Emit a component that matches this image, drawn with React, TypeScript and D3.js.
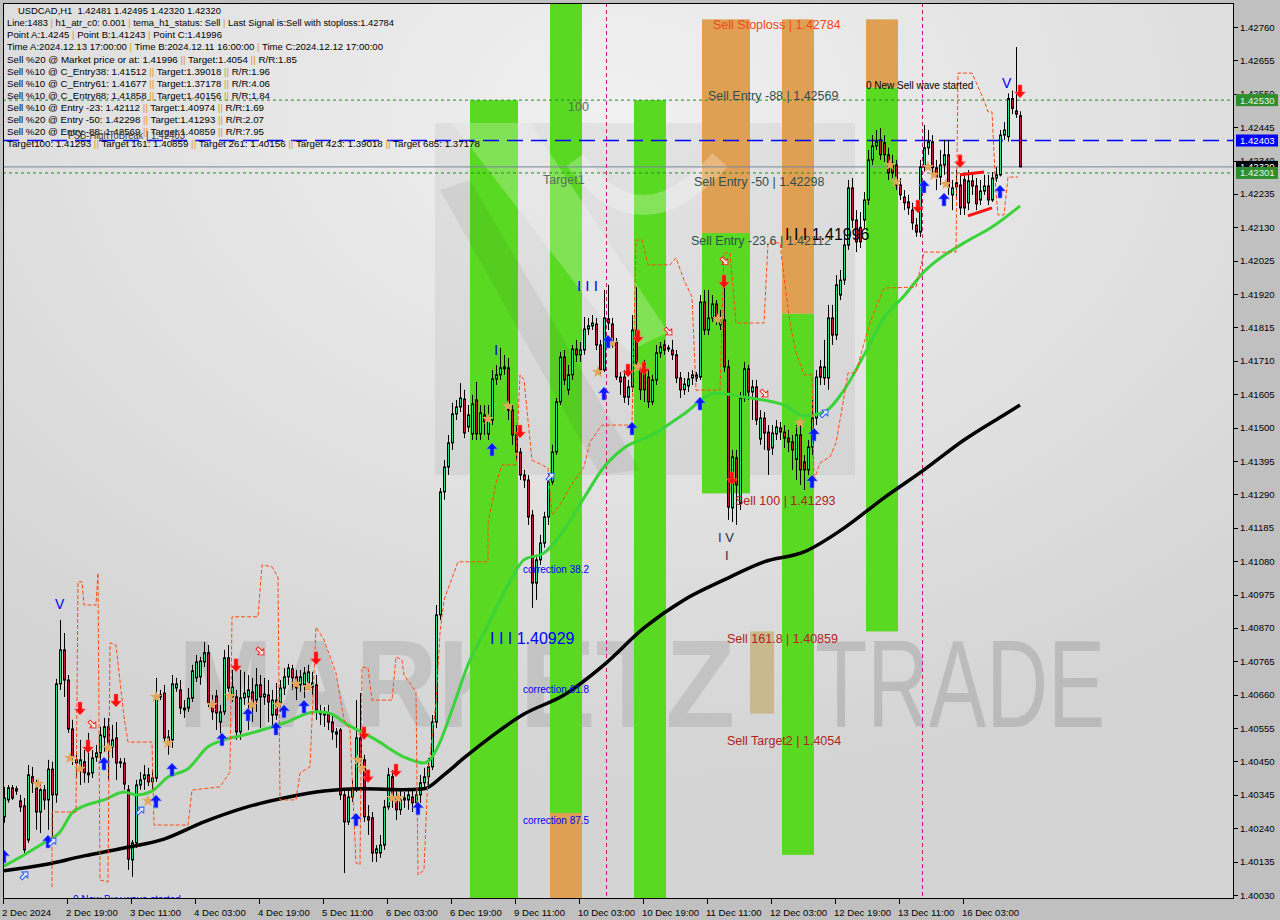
import React from "react";
import * as d3 from "d3";

// ---------------- DATA ----------------
const OPEN = [
  1.40276,1.40329,1.40367,1.40364,1.40326,1.40310,1.40203,1.40402,1.40367,1.40291,
  1.40361,1.40329,1.40426,1.40345,1.40694,1.40801,1.40706,1.40552,1.40445,1.40423,
  1.40449,1.40414,1.40414,1.40464,1.40477,1.40527,1.40559,1.40496,1.40524,1.40449,
  1.40445,1.40361,1.40140,1.40194,1.40376,1.40395,1.40408,1.40386,1.40398,1.40653,
  1.40665,1.40527,1.40518,1.40681,1.40675,1.40618,1.40618,1.40649,1.40713,1.40716,
  1.40763,1.40792,1.40634,1.40656,1.40574,1.40606,1.40776,1.40653,1.40653,1.40543,
  1.40650,1.40653,1.40669,1.40643,1.40691,1.40653,1.40659,1.40596,1.40643,1.40634,
  1.40681,1.40716,1.40741,1.40716,1.40691,1.40691,1.40697,1.40684,1.40691,1.40606,
  1.40599,1.40599,1.40574,1.40543,1.40549,1.40345,1.40260,1.40338,1.40367,1.40524,
  1.40455,1.40276,1.40273,1.40162,1.40162,1.40187,1.40307,1.40402,1.40338,1.40298,
  1.40329,1.40329,1.40338,1.40320,1.40345,1.40383,1.40402,1.40433,1.40574,1.40911,
  1.41298,1.41376,1.41452,1.41543,1.41565,1.41590,1.41502,1.41480,1.41587,1.41480,
  1.41540,1.41480,1.41524,1.41653,1.41666,1.41691,1.41688,1.41555,1.41477,1.41423,
  1.41351,1.41335,1.41225,1.41011,1.41084,1.41137,1.41219,1.41329,1.41423,1.41581,
  1.41722,1.41619,1.41666,1.41747,1.41729,1.41744,1.41810,1.41820,1.41826,1.41760,
  1.41681,1.41842,1.41826,1.41769,1.41659,1.41659,1.41596,1.41628,1.41807,1.41681,
  1.41672,1.41659,1.41581,1.41650,1.41735,1.41760,1.41751,1.41744,1.41729,1.41656,
  1.41619,1.41631,1.41656,1.41666,1.41659,1.41895,1.41807,1.41845,1.41889,1.41823,
  1.41839,1.41691,1.41247,1.41405,1.41262,1.41593,1.41685,1.41612,1.41628,1.41464,
  1.41530,1.41486,1.41436,1.41480,1.41499,1.41486,1.41467,1.41455,1.41400,1.41477,
  1.41392,1.41367,1.41439,1.41530,1.41691,1.41656,1.41656,1.41845,1.41791,1.41917,
  1.41964,1.42074,1.42254,1.42153,1.42130,1.42153,1.42216,1.42342,1.42386,1.42405,
  1.42396,1.42358,1.42332,1.42326,1.42263,1.42225,1.42210,1.42184,1.42137,1.42115,
  1.42320,1.42380,1.42399,1.42317,1.42288,1.42326,1.42358,1.42232,1.42270,1.42263,
  1.42280,1.42207,1.42276,1.42260,1.42216,1.42244,1.42260,1.42216,1.42285,1.42295,
  1.42420,1.42415,1.42535,1.42496,1.42481,
];
const HIGH = [
  1.40370,1.40376,1.40376,1.40373,1.40345,1.40335,1.40439,1.40433,1.40392,1.40386,
  1.40376,1.40455,1.40449,1.40710,1.40895,1.40854,1.40722,1.40581,1.40477,1.40518,
  1.40486,1.40540,1.40486,1.40502,1.40559,1.40587,1.40587,1.40565,1.40574,1.40461,
  1.40461,1.40376,1.40203,1.40392,1.40417,1.40439,1.40430,1.40423,1.40713,1.40675,
  1.40691,1.40549,1.40722,1.40713,1.40706,1.40643,1.40681,1.40754,1.40785,1.40779,
  1.40826,1.40816,1.40659,1.40675,1.40628,1.40801,1.40816,1.40738,1.40675,1.40738,
  1.40732,1.40722,1.40713,1.40744,1.40722,1.40713,1.40706,1.40675,1.40697,1.40706,
  1.40744,1.40757,1.40754,1.40738,1.40738,1.40747,1.40754,1.40732,1.40722,1.40628,
  1.40621,1.40628,1.40596,1.40555,1.40555,1.40361,1.40361,1.40392,1.40643,1.40665,
  1.40471,1.40313,1.40291,1.40187,1.40219,1.40329,1.40430,1.40423,1.40361,1.40361,
  1.40354,1.40367,1.40361,1.40367,1.40408,1.40430,1.40461,1.40596,1.40942,1.41310,
  1.41398,1.41477,1.41578,1.41587,1.41640,1.41619,1.41571,1.41603,1.41644,1.41571,
  1.41571,1.41571,1.41681,1.41697,1.41751,1.41729,1.41719,1.41571,1.41508,1.41436,
  1.41367,1.41351,1.41241,1.41100,1.41163,1.41235,1.41342,1.41446,1.41593,1.41738,
  1.41744,1.41697,1.41760,1.41776,1.41769,1.41848,1.41845,1.41854,1.41845,1.41776,
  1.41933,1.41949,1.41845,1.41782,1.41675,1.41681,1.41650,1.41854,1.41942,1.41697,
  1.41713,1.41681,1.41666,1.41760,1.41769,1.41776,1.41760,1.41776,1.41744,1.41675,
  1.41656,1.41675,1.41681,1.41675,1.41917,1.41933,1.41933,1.41917,1.41901,1.41870,
  1.41955,1.41713,1.41430,1.41430,1.41612,1.41707,1.41697,1.41650,1.41650,1.41555,
  1.41549,1.41508,1.41508,1.41524,1.41518,1.41508,1.41493,1.41477,1.41508,1.41508,
  1.41414,1.41461,1.41587,1.41681,1.41713,1.41776,1.41886,1.41886,1.41980,1.41996,
  1.42106,1.42279,1.42285,1.42184,1.42178,1.42241,1.42373,1.42420,1.42436,1.42442,
  1.42420,1.42380,1.42358,1.42342,1.42285,1.42247,1.42232,1.42207,1.42159,1.42342,
  1.42452,1.42436,1.42420,1.42342,1.42373,1.42405,1.42405,1.42279,1.42310,1.42295,
  1.42295,1.42310,1.42304,1.42285,1.42279,1.42295,1.42295,1.42304,1.42319,1.42436,
  1.42461,1.42551,1.42560,1.42697,1.42495,
];
const LOW = [
  1.40257,1.40320,1.40329,1.40345,1.40291,1.40162,1.40194,1.40351,1.40235,1.40225,
  1.40298,1.40235,1.40213,1.40320,1.40675,1.40653,1.40540,1.40439,1.40398,1.40376,
  1.40383,1.40383,1.40398,1.40449,1.40455,1.40480,1.40392,1.40461,1.40392,1.40430,
  1.40361,1.40109,1.40087,1.40178,1.40361,1.40361,1.40373,1.40361,1.40386,1.40643,
  1.40511,1.40471,1.40493,1.40669,1.40599,1.40587,1.40606,1.40637,1.40700,1.40691,
  1.40747,1.40621,1.40581,1.40549,1.40538,1.40596,1.40669,1.40637,1.40518,1.40518,
  1.40628,1.40549,1.40574,1.40606,1.40555,1.40628,1.40574,1.40565,1.40581,1.40606,
  1.40659,1.40691,1.40675,1.40643,1.40669,1.40650,1.40675,1.40659,1.40581,1.40565,
  1.40559,1.40549,1.40518,1.40493,1.40329,1.40099,1.40250,1.40323,1.40354,1.40423,
  1.40260,1.40219,1.40134,1.40134,1.40147,1.40172,1.40298,1.40304,1.40266,1.40282,
  1.40304,1.40298,1.40291,1.40298,1.40320,1.40361,1.40376,1.40423,1.40555,1.40895,
  1.41273,1.41351,1.41430,1.41524,1.41549,1.41467,1.41486,1.41461,1.41461,1.41461,
  1.41477,1.41461,1.41508,1.41634,1.41650,1.41666,1.41524,1.41446,1.41398,1.41335,
  1.41310,1.41194,1.40933,1.40958,1.41068,1.41122,1.41194,1.41320,1.41414,1.41571,
  1.41634,1.41603,1.41650,1.41707,1.41707,1.41729,1.41791,1.41807,1.41744,1.41666,
  1.41675,1.41807,1.41751,1.41650,1.41603,1.41578,1.41571,1.41612,1.41688,1.41587,
  1.41581,1.41562,1.41571,1.41634,1.41719,1.41729,1.41738,1.41713,1.41640,1.41593,
  1.41603,1.41612,1.41634,1.41644,1.41650,1.41791,1.41791,1.41832,1.41823,1.41807,
  1.41675,1.41210,1.41203,1.41194,1.41241,1.41581,1.41587,1.41524,1.41508,1.41446,
  1.41430,1.41351,1.41414,1.41461,1.41461,1.41436,1.41423,1.41367,1.41335,1.41320,
  1.41304,1.41351,1.41414,1.41508,1.41634,1.41634,1.41619,1.41760,1.41776,1.41901,
  1.41949,1.42059,1.42128,1.42052,1.42065,1.42128,1.42200,1.42326,1.42373,1.42342,
  1.42336,1.42279,1.42285,1.42247,1.42216,1.42184,1.42169,1.42122,1.42100,1.42100,
  1.42304,1.42358,1.42295,1.42247,1.42263,1.42295,1.42232,1.42184,1.42216,1.42169,
  1.42169,1.42184,1.42232,1.42184,1.42200,1.42232,1.42200,1.42210,1.42273,1.42290,
  1.42405,1.42400,1.42486,1.42474,1.42320,
];
const CLOSE = [
  1.40335,1.40367,1.40335,1.40357,1.40307,1.40172,1.40408,1.40383,1.40291,1.40361,
  1.40329,1.40426,1.40345,1.40694,1.40801,1.40706,1.40552,1.40464,1.40455,1.40455,
  1.40414,1.40408,1.40461,1.40477,1.40533,1.40559,1.40502,1.40518,1.40445,1.40445,
  1.40379,1.40143,1.40194,1.40376,1.40392,1.40408,1.40386,1.40398,1.40653,1.40659,
  1.40524,1.40511,1.40694,1.40694,1.40618,1.40612,1.40649,1.40735,1.40763,1.40766,
  1.40792,1.40634,1.40606,1.40603,1.40606,1.40776,1.40681,1.40684,1.40543,1.40650,
  1.40665,1.40675,1.40628,1.40691,1.40653,1.40662,1.40637,1.40643,1.40596,1.40681,
  1.40716,1.40744,1.40713,1.40681,1.40716,1.40728,1.40732,1.40697,1.40612,1.40599,
  1.40596,1.40574,1.40543,1.40536,1.40345,1.40260,1.40338,1.40367,1.40524,1.40455,
  1.40276,1.40266,1.40162,1.40175,1.40187,1.40307,1.40408,1.40338,1.40298,1.40329,
  1.40335,1.40345,1.40320,1.40345,1.40383,1.40402,1.40433,1.40574,1.40911,1.41298,
  1.41376,1.41452,1.41543,1.41565,1.41593,1.41483,1.41540,1.41574,1.41480,1.41546,
  1.41518,1.41533,1.41653,1.41666,1.41688,1.41685,1.41555,1.41477,1.41423,1.41351,
  1.41335,1.41219,1.41011,1.41084,1.41137,1.41219,1.41329,1.41423,1.41581,1.41722,
  1.41650,1.41666,1.41747,1.41729,1.41744,1.41810,1.41820,1.41829,1.41760,1.41681,
  1.41845,1.41829,1.41769,1.41659,1.41644,1.41596,1.41628,1.41807,1.41703,1.41619,
  1.41619,1.41581,1.41650,1.41735,1.41754,1.41744,1.41747,1.41729,1.41656,1.41619,
  1.41637,1.41653,1.41666,1.41656,1.41895,1.41807,1.41845,1.41889,1.41845,1.41832,
  1.41691,1.41250,1.41408,1.41320,1.41593,1.41685,1.41612,1.41628,1.41524,1.41530,
  1.41483,1.41430,1.41483,1.41502,1.41486,1.41467,1.41455,1.41430,1.41477,1.41367,
  1.41367,1.41439,1.41530,1.41659,1.41659,1.41691,1.41845,1.41791,1.41949,1.41964,
  1.42074,1.42254,1.42153,1.42084,1.42084,1.42216,1.42342,1.42386,1.42399,1.42358,
  1.42358,1.42301,1.42301,1.42263,1.42232,1.42207,1.42191,1.42144,1.42115,1.42320,
  1.42380,1.42399,1.42317,1.42288,1.42326,1.42358,1.42257,1.42254,1.42257,1.42191,
  1.42191,1.42276,1.42260,1.42204,1.42244,1.42260,1.42216,1.42285,1.42295,1.42420,
  1.42436,1.42535,1.42504,1.42486,1.42320,
];

const X_TICK_BARS = [0,16,32,48,64,80,96,112,128,144,160,176,192,208,224,240];
const X_TICK_LABELS = ["2 Dec 2024","2 Dec 19:00","3 Dec 11:00","4 Dec 03:00","4 Dec 19:00","5 Dec 11:00","6 Dec 03:00","6 Dec 19:00","9 Dec 11:00","10 Dec 03:00","10 Dec 19:00","11 Dec 11:00","12 Dec 03:00","12 Dec 19:00","13 Dec 11:00","16 Dec 03:00"];
const Y_TICKS = [1.40030,1.40135,1.40240,1.40345,1.40450,1.40555,1.40660,1.40765,1.40870,1.40975,1.41080,1.41185,1.41290,1.41395,1.41500,1.41605,1.41710,1.41815,1.41920,1.42025,1.42130,1.42235,1.42340,1.42445,1.42550,1.42655,1.42760];

const GREEN_MA_BARS = [0,5,10,14,17,20,25,30,33,37,41,46,51,55,60,70,78,81,86,93,100,105,107,109,112,116,121,126,130,135,140,145,150,155,162,170,178,185,195,200,205,210,215,220,225,230,240,247,254];
const GREEN_MA_VALUES = [1.40121,1.40156,1.40194,1.40228,1.40288,1.40310,1.40329,1.40354,1.40345,1.40357,1.40401,1.40427,1.40496,1.40518,1.40533,1.40571,1.40606,1.40603,1.40565,1.40518,1.40464,1.40445,1.40464,1.40511,1.40612,1.40754,1.40879,1.41005,1.41084,1.41106,1.41178,1.41279,1.41376,1.41436,1.41477,1.41543,1.41609,1.41596,1.41571,1.41537,1.41549,1.41618,1.41728,1.41845,1.41914,1.41990,1.42081,1.42131,1.42197];
const BLACK_MA_BARS = [0,10,20,30,40,50,60,70,80,90,100,105,110,115,120,130,140,150,160,170,180,190,200,210,220,230,240,250,254];
const BLACK_MA_VALUES = [1.40106,1.40125,1.40153,1.40178,1.40206,1.40260,1.40304,1.40335,1.40357,1.40364,1.40361,1.40364,1.40408,1.40461,1.40511,1.40599,1.40659,1.40754,1.40870,1.40958,1.41021,1.41078,1.41109,1.41184,1.41279,1.41367,1.41461,1.41540,1.41571];

const STOP_BARS = [12,12,18,18.5,19.5,20,23,23.5,24,26,26.5,28,30,31,37,37.5,46,47,54,56.5,57,63.5,64.5,67,68.5,69,73,74,76.5,78,80,83,85,86.5,88,89,89.5,91,92,97,98,99.5,100,103,103.5,105,106,108,109,110,113.5,121,121,123,124.5,128,129,130,132,136,137,139,141.5,145,146.5,149.5,157,158,159.5,161,166.5,168,170,172,173,179,180,181.5,183,190,191,194,195,196.5,198,200,202,202.5,204,206.5,208,210,211,213,215,216.5,218,220,228,230,238,238.5,242,245,246,247,248,248.5,250,251,253.5];
const STOP_VALUES = [1.40055,1.40291,1.40291,1.41015,1.41015,1.40942,1.40942,1.41043,1.40077,1.40071,1.40823,1.40816,1.40590,1.40511,1.40511,1.40250,1.40250,1.40360,1.40370,1.40417,1.40905,1.40905,1.41068,1.41062,1.41030,1.40329,1.40329,1.40414,1.40433,1.40873,1.40832,1.40728,1.40581,1.40549,1.40131,1.40125,1.40747,1.40744,1.40643,1.40643,1.40779,1.40769,1.40722,1.40669,1.40093,1.40109,1.40414,1.40634,1.40854,1.40958,1.41078,1.41078,1.41200,1.41326,1.41383,1.41383,1.41666,1.41650,1.41398,1.41373,1.41225,1.41257,1.41313,1.41376,1.41455,1.41508,1.41508,1.42090,1.42090,1.42012,1.42012,1.42034,1.41964,1.41911,1.41618,1.41618,1.42049,1.42049,1.41829,1.41829,1.42081,1.42081,1.41974,1.41829,1.41735,1.41666,1.41666,1.41335,1.41389,1.41408,1.41452,1.41596,1.41672,1.41672,1.41766,1.41829,1.41880,1.41939,1.41942,1.42052,1.42052,1.42615,1.42615,1.42530,1.42493,1.42493,1.42238,1.42169,1.42169,1.42288,1.42288];

const BUY_ARROW_BARS = [0,11,25,38,42,54.5,61,68,70,75,88,103.5,122,150,151,157,174,202,202.5,230,235,249];
const BUY_ARROW_PRICES = [1.40172,1.40219,1.40464,1.40345,1.40445,1.40540,1.40618,1.40574,1.40628,1.40643,1.40288,1.40323,1.41452,1.41628,1.41791,1.41518,1.41596,1.41351,1.41499,1.42279,1.42238,1.42263];
const SELL_ARROW_BARS = [19,21,28,58,78,90,91,98,129,156,158.5,160,180,182,228.5,239,254];
const SELL_ARROW_PRICES = [1.40596,1.40477,1.40621,1.40732,1.40754,1.40518,1.40383,1.40401,1.41467,1.41659,1.41766,1.41666,1.41939,1.41320,1.42175,1.42317,1.42537];
const HOLLOW_BUY_BARS = [6,13,35,137.5,206];
const HOLLOW_BUY_PRICES = [1.40103,1.40209,1.40307,1.41357,1.41556];
const HOLLOW_SELL_BARS = [23,65,167,181,191];
const HOLLOW_SELL_PRICES = [1.40555,1.40785,1.41791,1.42012,1.41596];
const STAR_BARS = [8.5,16.5,19,26,36,38,41,52,56.5,62,68.5,73,76,88.5,89.5,97,98.5,121,126,148.5,152,158.5,178.5,221.5,223,231,232.5,235.5,199];
const STAR_PRICES = [1.40379,1.40461,1.40427,1.40493,1.40326,1.40653,1.40508,1.40628,1.40656,1.40628,1.40628,1.40694,1.40684,1.40455,1.40430,1.40335,1.40335,1.41527,1.41568,1.41675,1.41766,1.41691,1.41842,1.42326,1.42273,1.42320,1.42295,1.42266,1.41515];
const RED_SEG_BARS = [[239,245],[241,247]];
const RED_SEG_PRICES = [[1.42295,1.42304],[1.42166,1.42191]];

const ZONE_START = [117,137,137,158,175,175,195,195,216,216,187];
const ZONE_END = [128,144,144,165,186,186,202,202,223,223,192];
const ZONE_TOP = [1.42530,1.42900,1.40288,1.42530,1.42784,1.42112,1.42784,1.41858,1.42784,1.42569,1.40859];
const ZONE_BOTTOM = [1.39900,1.40288,1.39900,1.39900,1.42112,1.41293,1.41858,1.40156,1.42569,1.40859,1.40600];
const ZONE_KIND = ["buy","buy","sell","buy","sell","buy","sell","buy","sell","buy","tan"];

const VLINE_BARS = [151, 230];

const INFO_LINES = [
  "USDCAD,H1  1.42481 1.42495 1.42320 1.42320",
  "Line:1483 | h1_atr_c0: 0.001 | tema_h1_status: Sell | Last Signal is:Sell with stoploss:1.42784",
  "Point A:1.4245 | Point B:1.41243 | Point C:1.41996",
  "Time A:2024.12.13 17:00:00 | Time B:2024.12.11 16:00:00 | Time C:2024.12.12 17:00:00",
  "Sell %20 @ Market price or at: 1.41996 || Target:1.4054 || R/R:1.85",
  "Sell %10 @ C_Entry38: 1.41512 || Target:1.39018 || R/R:1.96",
  "Sell %10 @ C_Entry61: 1.41677 || Target:1.37178 || R/R:4.06",
  "Sell %10 @ C_Entry88: 1.41858 || Target:1.40156 || R/R:1.84",
  "Sell %10 @ Entry -23: 1.42112 || Target:1.40974 || R/R:1.69",
  "Sell %20 @ Entry -50: 1.42298 || Target:1.41293 || R/R:2.07",
  "Sell %20 @ Entry -88: 1.42569 || Target:1.40859 || R/R:7.95",
  "Target100: 1.41293 || Target 161: 1.40859 || Target 261: 1.40156 || Target 423: 1.39018 || Target 685: 1.37178",
];
const INFO_WIDTHS = [203,387,215,376,290,263,263,263,257,257,257,473];

const LEVEL_TEXT = ["Sell Stoploss | 1.42784","Sell Entry -88 | 1.42569","Sell Entry -50 | 1.42298","Sell Entry -23.6 | 1.42112","Sell 100 | 1.41293","Sell 161.8 | 1.40859","Sell Target2 | 1.4054"];
const LEVEL_TEXT_BARS = [177.25,176,172.5,171.75,182.75,180.75,180.75];
const LEVEL_TEXT_PRICES = [1.42784,1.42569,1.42298,1.42112,1.41293,1.40859,1.4054];

const NOTE_TEXT = ["100","Target1","0 New Sell wave started","I I I 1.41996","I I I","I","I V","I","correction 38.2","I I I 1.40929","correction 61.8","correction 87.5","V","V","0 New Buy wave started"];
const NOTE_BARS = [141,134.75,215.5,195.25,143.25,122.5,178.5,180.25,129.75,121.5,129.75,129.75,12.75,249.5,17.25];
const NOTE_PRICES = [1.42496,1.42266,1.42565,1.42090,1.41930,1.41729,1.41140,1.41084,1.41043,1.40820,1.40665,1.40254,1.40930,1.42568,1.40005];

// ---------------- CHART ----------------
export default function App() {
  const W = 1280, H = 920;
  const L = 3, T = 3, R = 1234, B = 899;
  const x = d3.scaleLinear().domain([0, 254]).range([4, 1020]);
  const y = d3.scaleLinear().domain([1.4003, 1.4276]).range([895, 27]);
  const font = "'Liberation Sans', Arial, sans-serif";

  const greenPath = d3.line().x((d) => x(d[0])).y((d) => y(d[1])).curve(d3.curveMonotoneX)(GREEN_MA_BARS.map((b, i) => [b, GREEN_MA_VALUES[i]]));
  const blackPath = d3.line().x((d) => x(d[0])).y((d) => y(d[1])).curve(d3.curveMonotoneX)(BLACK_MA_BARS.map((b, i) => [b, BLACK_MA_VALUES[i]]));
  const stopPath = d3.line().x((d) => x(d[0])).y((d) => y(d[1]))(STOP_BARS.map((b, i) => [b, STOP_VALUES[i]]));
  const star = d3.symbol().type(d3.symbolStar).size(48)();

  const zoneColor = (k) => (k === "buy" ? "#5ad922" : k === "sell" ? "#e0a053" : "#c9b98e");

  const upArrow = "M0,0 L5.5,6 L2,6 L2,13 L-2,13 L-2,6 L-5.5,6 Z";
  const downArrow = "M0,0 L5.5,-6 L2,-6 L2,-13 L-2,-13 L-2,-6 L-5.5,-6 Z";

  const levelBoxes = [
    { p: 1.42530, bg: "#2f8f2f", fg: "#e4f4e4" },
    { p: 1.42403, bg: "#0000ff", fg: "#ffffff" },
    { p: 1.42320, bg: "#000000", fg: "#ffffff" },
    { p: 1.42301, bg: "#2f8f2f", fg: "#e4f4e4" },
  ];

  const blueNotes = [4, 5, 8, 9, 10, 11, 12, 13, 14];

  return (
    <svg width={W} height={H} style={{ position: "absolute", left: 0, top: 0, display: "block" }} fontFamily={font}>
      <defs>
        <radialGradient id="bg" cx="0.5" cy="0.12" r="0.75">
          <stop offset="0" stopColor="#f0f0f0" />
          <stop offset="0.6" stopColor="#e0e0e0" />
          <stop offset="1" stopColor="#d4d4d4" />
        </radialGradient>
        <clipPath id="plotclip">
          <rect x={L} y={T} width={R - L} height={B - T} />
        </clipPath>
      </defs>
      <rect x={0} y={0} width={W} height={H} fill="#c0c0c0" />
      <rect x={L} y={T} width={R - L} height={B - T} fill="url(#bg)" />

      <g clipPath="url(#plotclip)">
        {/* logo backdrop */}
        <rect x={435} y={123} width={420} height={352} fill="#000" opacity={0.05} />
        {/* watermark */}
        <text x={178} y={727} fontSize={124} fontWeight="bold" textLength={557} lengthAdjust="spacingAndGlyphs" fill="#8c8c8c" opacity={0.27}>MARKETZ</text>
        <text x={815} y={727} fontSize={124} textLength={290} lengthAdjust="spacingAndGlyphs" fill="#8c8c8c" opacity={0.35}>TRADE</text>

        {/* zones */}
        {ZONE_START.map((s, i) => (
          <rect key={"z" + i} x={x(s) - 2} width={x(ZONE_END[i]) - x(s) + 4} y={y(ZONE_TOP[i])} height={y(ZONE_BOTTOM[i]) - y(ZONE_TOP[i])} fill={zoneColor(ZONE_KIND[i])} />
        ))}

        {/* logo strokes */}
        <polygon points="452,123 530,123 668,332 628,352" fill="#ffffff" opacity={0.24} />
        <path d="M 575 160 Q 640 250 720 160" stroke="#ffffff" strokeWidth={20} fill="none" opacity={0.26} />
        <polygon points="440,190 470,180 640,470 600,475" fill="#000" opacity={0.06} />

        {/* horizontal levels */}
        <line x1={L} x2={R} y1={y(1.42530)} y2={y(1.42530)} stroke="#228b22" strokeWidth={1} strokeDasharray="3,3" />
        <line x1={L} x2={R} y1={y(1.42301)} y2={y(1.42301)} stroke="#228b22" strokeWidth={1} strokeDasharray="3,3" />
        <line x1={L} x2={R} y1={y(1.42403)} y2={y(1.42403)} stroke="#0000ff" strokeWidth={1.5} strokeDasharray="16,8" />
        <line x1={L} x2={R} y1={y(1.42320)} y2={y(1.42320)} stroke="#778899" strokeWidth={1} />

        {/* vertical time markers */}
        {VLINE_BARS.map((b, i) => (
          <line key={"v" + i} x1={x(b) - 1.5} x2={x(b) - 1.5} y1={T} y2={B} stroke="#c71585" strokeWidth={1} strokeDasharray="4,3" />
        ))}

        {/* candles */}
        {OPEN.map((o, i) => {
          const c = CLOSE[i];
          const hi = Math.max(HIGH[i], o, c);
          const lo = Math.min(LOW[i], o, c);
          const cx = Math.round(x(i)) + 0.5;
          const top = y(Math.max(o, c));
          const bot = y(Math.min(o, c));
          return (
            <g key={"c" + i}>
              <line x1={cx} x2={cx} y1={y(hi)} y2={y(lo)} stroke="#000" strokeWidth={1} />
              <rect x={cx - 1} y={top} width={2} height={Math.max(bot - top, 0.5)} fill={c >= o ? "#22e386" : "#c8143c"} stroke="#000" strokeWidth={1} />
            </g>
          );
        })}

        {/* moving averages */}
        <path d={blackPath} fill="none" stroke="#000" strokeWidth={3.5} />
        <path d={greenPath} fill="none" stroke="#3ad43a" strokeWidth={3} />
        {/* trailing stop */}
        <path d={stopPath} fill="none" stroke="#ff4a12" strokeWidth={1} strokeDasharray="4,2" />

        {/* red segments */}
        {RED_SEG_BARS.map((s, i) => (
          <line key={"rs" + i} x1={x(s[0])} x2={x(s[1])} y1={y(RED_SEG_PRICES[i][0])} y2={y(RED_SEG_PRICES[i][1])} stroke="#ff1010" strokeWidth={3} />
        ))}

        {/* stars */}
        {STAR_BARS.map((b, i) => (
          <path key={"s" + i} d={star} transform={`translate(${x(b)},${y(STAR_PRICES[i])})`} fill="#e2a55a" />
        ))}

        {/* arrows */}
        {BUY_ARROW_BARS.map((b, i) => (
          <path key={"ba" + i} d={upArrow} transform={`translate(${x(b)},${y(BUY_ARROW_PRICES[i])})`} fill="#0a14ff" stroke="#6f8cff" strokeWidth={0.6} />
        ))}
        {SELL_ARROW_BARS.map((b, i) => (
          <path key={"sa" + i} d={downArrow} transform={`translate(${x(b)},${y(SELL_ARROW_PRICES[i])})`} fill="#ff0a0a" stroke="#ff7070" strokeWidth={0.6} />
        ))}
        {HOLLOW_BUY_BARS.map((b, i) => (
          <path key={"hb" + i} d={upArrow} transform={`translate(${x(b)},${y(HOLLOW_BUY_PRICES[i])}) rotate(45) scale(0.75)`} fill="#dfe8ff" stroke="#2b5cff" strokeWidth={1.3} />
        ))}
        {HOLLOW_SELL_BARS.map((b, i) => (
          <path key={"hs" + i} d={downArrow} transform={`translate(${x(b)},${y(HOLLOW_SELL_PRICES[i])}) rotate(-45) scale(0.75)`} fill="#ffe8e0" stroke="#ff2020" strokeWidth={1.3} />
        ))}

        {/* level texts */}
        {LEVEL_TEXT.map((t, i) => (
          <text key={"lt" + i} x={x(LEVEL_TEXT_BARS[i])} y={y(LEVEL_TEXT_PRICES[i]) + (i === 0 ? 10 : 12)} fontSize={12.5}
            fill={i === 0 ? "#f0481a" : i < 4 ? "#2f4f4f" : "#b22222"}>{t}</text>
        ))}

        {/* notes */}
        {NOTE_TEXT.map((t, i) => {
          const big = t.startsWith("I I I ");
          const isBlue = blueNotes.includes(i);
          const color = isBlue ? "#0000ff" : i === 0 || i === 1 ? "#5b6e5b" : i === 6 || i === 7 ? "#2a2a40" : "#000";
          const size = big ? 16 : i === 4 || i === 5 ? 15 : i === 6 || i === 7 ? 13 : i === 12 || i === 13 ? 14 : i === 0 || i === 1 ? 12.5 : 10;
          return (
            <text key={"n" + i} x={x(NOTE_BARS[i])} y={y(NOTE_PRICES[i])} fontSize={size} fill={color}
              fontWeight={i === 12 || i === 13 ? 200 : "normal"}>{t}</text>
          );
        })}

        {/* info panel */}
        {INFO_LINES.map((line, i) => {
          const parts = line.split(/(\|\|?)/);
          return (
            <text key={"i" + i} x={i === 0 ? 18 : 7} y={14.3 + i * 12.05} fontSize={9.6} textLength={INFO_WIDTHS[i]} lengthAdjust="spacingAndGlyphs" fill="#000" style={{ whiteSpace: "pre" }}>
              {parts.map((p, j) => (
                <tspan key={j} fill={p === "|" || p === "||" ? "#e0962e" : "#000"}>{p}</tspan>
              ))}
            </text>
          );
        })}
        <text x={68} y={139} fontSize={10.5} fill="#3c3c3c" textLength={117} lengthAdjust="spacingAndGlyphs">FSB-HighToBreak | 1.42403</text>
      </g>

      {/* frame */}
      <rect x={L + 0.5} y={T + 0.5} width={R - L - 1} height={B - T - 1} fill="none" stroke="#000" strokeWidth={1} />

      {/* right axis */}
      {Y_TICKS.map((p, i) => (
        <g key={"yt" + i}>
          <line x1={R} x2={R + 4} y1={Math.round(y(p)) + 0.5} y2={Math.round(y(p)) + 0.5} stroke="#000" />
          <text x={1240} y={y(p) + 3.5} fontSize={9.6} fill="#000">{p.toFixed(5)}</text>
        </g>
      ))}
      {levelBoxes.map((lb, i) => (
        <g key={"lb" + i}>
          <rect x={1236} y={y(lb.p) - 6} width={42} height={12} fill={lb.bg} />
          <text x={1240} y={y(lb.p) + 3.5} fontSize={9.6} fill={lb.fg}>{lb.p.toFixed(5)}</text>
        </g>
      ))}

      {/* bottom axis */}
      {X_TICK_BARS.map((b, i) => (
        <g key={"xt" + i}>
          <line x1={x(b) - 0.5} x2={x(b) - 0.5} y1={B} y2={B + 5} stroke="#000" />
          <text x={x(b) - 2} y={916} fontSize={9.6} fill="#000">{X_TICK_LABELS[i]}</text>
        </g>
      ))}
    </svg>
  );
}
